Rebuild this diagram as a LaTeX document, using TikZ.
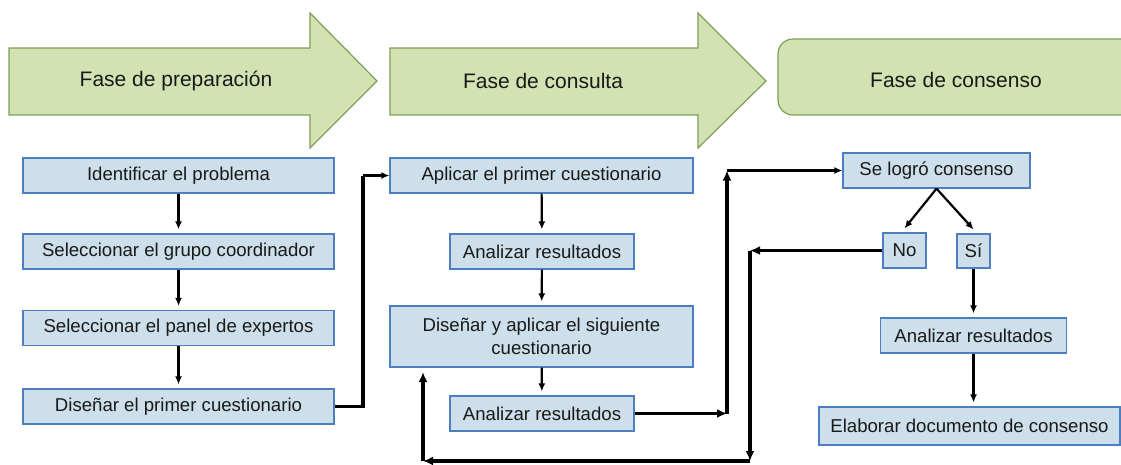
\documentclass[tikz,border=0pt]{standalone}
\usepackage{fontspec}
\setmainfont{Liberation Sans}
\usetikzlibrary{arrows.meta,calc}
\definecolor{arrfill}{HTML}{D3E2B3}
\definecolor{arrdraw}{HTML}{7F9F55}
\definecolor{boxfill}{HTML}{CDDFEA}
\definecolor{boxdraw}{HTML}{4F7EC0}
\tikzset{
  stepbox/.style={draw=boxdraw, fill=boxfill, line width=1.2pt, inner sep=0pt,
    font=\fontsize{18.6}{22.5}\selectfont, align=center, text=black!90},
  phase/.style={draw=arrdraw, fill=arrfill, line width=1.2pt},
  phasetext/.style={font=\fontsize{21}{25}\selectfont, text=black!90},
  conn/.style={line width=2.2pt, -{Latex[length=8pt,width=7pt]}},
  heavy/.style={line width=3.2pt},
  heavyarrow/.style={line width=3.2pt, -{Latex[length=10pt,width=9pt]}},
}
\begin{document}
\begin{tikzpicture}[x=1pt,y=-1pt]
\useasboundingbox (0,0) rectangle (1121,464);
\fill[white] (0,0) rectangle (1121,464);
% phases
\draw[phase] (9,48) -- (310,48) -- (310,13) -- (377,81) -- (310,148) -- (310,115) -- (9,115) -- cycle;
\node[phasetext] (p1) at (176,81) {Fase de preparación};
\draw[phase] (390,48) -- (698,48) -- (698,13) -- (766,81) -- (698,148) -- (698,115) -- (390,115) -- cycle;
\node[phasetext] (p2) at (543,81) {Fase de consulta};
\begin{scope}
\clip (0,0) rectangle (1121,464);
\draw[phase, rounded corners=15pt] (778,39) rectangle (1160,115);
\end{scope}
\node[phasetext] (p3) at (956,80) {Fase de consenso};
% column 1
\node[stepbox, minimum width=311pt, minimum height=35pt] (b1) at (178.5,175.5) {Identificar el problema};
\node[stepbox, minimum width=311pt, minimum height=35pt] (b2) at (178.5,251.5) {Seleccionar el grupo coordinador};
\node[stepbox, minimum width=311pt, minimum height=35pt] (b3) at (178.5,328) {Seleccionar el panel de expertos};
\node[stepbox, minimum width=311pt, minimum height=35pt] (b4) at (178.5,406.5) {Diseñar el primer cuestionario};
% column 2
\node[stepbox, minimum width=303pt, minimum height=35pt] (c1) at (541.5,175.5) {Aplicar el primer cuestionario};
\node[stepbox, minimum width=184pt, minimum height=35pt] (c2) at (542,251.5) {Analizar resultados};
\node[stepbox, minimum width=303pt, minimum height=61pt] (c3) at (541.5,336.5) {Diseñar y aplicar el siguiente\\cuestionario};
\node[stepbox, minimum width=184pt, minimum height=35pt] (c4) at (542,413.5) {Analizar resultados};
% column 3
\node[stepbox, minimum width=187pt, minimum height=35pt] (s1) at (936.5,170.5) {Se logró consenso};
\node[stepbox, minimum width=43pt, minimum height=35pt] (no) at (904.5,250.5) {No};
\node[stepbox, minimum width=33pt, minimum height=34pt] (si) at (973.5,251) {Sí};
\node[stepbox, minimum width=186pt, minimum height=35pt] (s2) at (973.5,335.5) {Analizar resultados};
\node[stepbox, minimum width=301pt, minimum height=38pt] (s3) at (969.5,426) {Elaborar documento de consenso};
% vertical arrows
\draw[conn, shorten >=4pt] (b1) -- (b2);
\draw[conn, shorten >=4pt] (b2) -- (b3);
\draw[conn, shorten >=4pt] (b3) -- (b4);
\draw[conn, shorten >=4pt] (c1) -- (c2);
\draw[conn, shorten >=4pt] (c2) -- (c3);
\draw[conn, shorten >=4pt] (c3) -- (c4);
\draw[conn] (s1.south) -- ($(no.north)+(0,-4)$);
\draw[conn] (s1.south) -- ($(si.north)+(0,-4)$);
\draw[conn, shorten >=4pt] (si.south) -- (si.south |- s2.north);
\draw[conn, shorten >=4pt] (s2.south) -- (s2.south |- s3.north);
% connectors
\coordinate (k1) at (363,175.5);
\draw[heavy] (b4.east) -| (k1);
\draw[conn] (k1) -- (c1.west);
\coordinate (k2) at (727,413.5);
\coordinate (k3) at (727,170.5);
\draw[heavyarrow] (c4.east) -- (k2);
\draw[heavyarrow] (k2) -- (k3);
\draw[conn] (k3) -- (s1.west);
\coordinate (k4) at (750,250.5);
\coordinate (k5) at (750,461);
\coordinate (k6) at (423,461);
\coordinate (k7) at (423,372);
\draw[heavyarrow] (no.west) -- (k4);
\draw[heavyarrow] (k4) -- (k5);
\draw[heavyarrow] (k5) -- (k6);
\draw[heavyarrow] (k6) -- (k7);
\end{tikzpicture}
\end{document}
